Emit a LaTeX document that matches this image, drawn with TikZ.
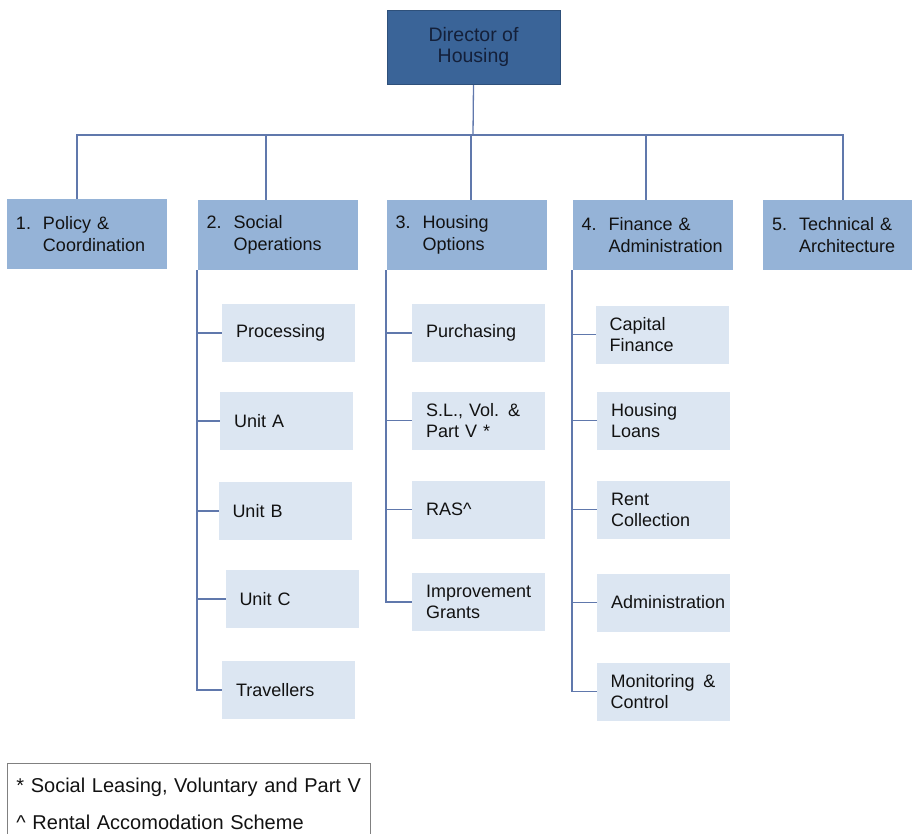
\documentclass[tikz,border=0pt]{standalone}
\usepackage{fontspec}
\setmainfont{Liberation Sans}
\usetikzlibrary{positioning}
\definecolor{dirc}{RGB}{58,100,152}
\definecolor{dirt}{RGB}{20,32,58}
\definecolor{secc}{RGB}{149,179,215}
\definecolor{unitc}{RGB}{220,230,242}
\definecolor{linkc}{RGB}{96,120,172}
\definecolor{notec}{RGB}{128,128,128}
\definecolor{txtc}{RGB}{18,18,18}
\newcommand{\numw}{27pt}
\newcommand{\sectitle}[3]{\makebox[\numw][l]{#1}#2\\\hspace*{\numw}#3}
\pgfdeclarelayer{bg}
\pgfsetlayers{bg,main}

\begin{document}
\begin{tikzpicture}[x=1pt, y=-1pt, line width=1.3pt]
		\tikzstyle{box}=[rectangle, inner sep=0pt, text=txtc]
		\tikzstyle{director}=[box, fill=dirc, draw=dirc!80!black, line width=0.8pt,
		minimum width=173pt, minimum height=74pt, align=center, text=dirt,
		font=\fontsize{19.5}{21}\selectfont]
		\tikzstyle{section}=[box, fill=secc, minimum width=160pt, minimum
		height=70pt, inner xsep=9pt, text width=142pt, align=left,
		font=\fontsize{18}{22}\selectfont]
		\tikzstyle{unit}=[box, fill=unitc, minimum width=133pt, minimum
		height=58pt, inner xsep=14pt, text width=105pt, align=left,
		font=\fontsize{18}{21}\selectfont]
		\tikzstyle{link}=[draw=linkc, line width=1.3pt, line cap=rect]
		\tikzstyle{note}=[box, draw=notec, line width=0.8pt, minimum width=363pt,
		minimum height=81pt, inner xsep=9pt, text width=345pt, align=left,
		font=\fontsize{20}{37}\selectfont]

		\useasboundingbox (0,0) rectangle (912,834);

		\node[director](dir) at (473.5,47) {Director of\\Housing};

		% Sections
		\node[section](p1) at (87,234)    {\sectitle{1.}{Policy \&}{Coordination}};
		\node[section](p2) at (277.5,235) {\sectitle{2.}{Social}{Operations}};
		\node[section](p3) at (466.5,235) {\sectitle{3.}{Housing}{Options}};
		\node[section](p4) at (652.5,235) {\sectitle{4.}{Finance \&}{Administration}};
		\node[section](p5) at (843,235)   {\sectitle{5.}{Technical \&}{Architecture}};

		\coordinate (bar) at (473,135);
		\coordinate (b1) at (77,135);
		\coordinate (b2) at (266,135);
		\coordinate (b3) at (471,135);
		\coordinate (b4) at (646,135);
		\coordinate (b5) at (843,135);

		% Social Operations
		\node[unit](pro) at (288.5,333) {Processing};
		\node[unit](una) at (286.5,421) {Unit A};
		\node[unit](unb) at (285,511)   {Unit B};
		\node[unit](unc) at (292,599)   {Unit C};
		\node[unit](tra) at (288.5,690) {Travellers};

		% Housing Options
		\node[unit](pur) at (478.5,333)   {Purchasing};
		\node[unit](slv) at (478.5,420.5) {S.L., Vol. \&\\Part V *};
		\node[unit](ras) at (478.5,509.5) {RAS\textasciicircum};
		\node[unit](imp) at (478.5,602)   {Improvement\\Grants};

		% Finance & Administration
		\node[unit](caf) at (662,334.5)   {Capital\\Finance};
		\node[unit](hol) at (663.5,420.5) {Housing\\Loans};
		\node[unit](rco) at (663.5,509.5) {Rent\\Collection};
		\node[unit, align=center](adm) at (663.5,602.5) {Administration};
		\node[unit](mon) at (663,691.5)   {Monitoring\hfill\&\\Control};

		% Key
		\node[note, anchor=north west](key) at (7,763)
		{* Social Leasing, Voluntary and Part V\\\textasciicircum{} Rental Accomodation Scheme};

		\begin{pgfonlayer}{bg}
			% Director to sections
			\path (dir.south) edge [link] (bar);
			\path (b1) edge [link] (b5);
			\path (b1) edge [link] (b1 |- p1.north);
			\path (b2) edge [link] (b2 |- p2.north);
			\path (b3) edge [link] (b3 |- p3.north);
			\path (b4) edge [link] (b4 |- p4.north);
			\path (b5) edge [link] (b5 |- p5.north);

			% Section spines
			\path (p2.south west) edge [link] (p2.south west |- tra.west);
			\path (p3.south west) edge [link] (p3.south west |- imp.west);
			\path (p4.south west) edge [link] (p4.south west |- mon.west);

			% Units
			\foreach \u in {pro,una,unb,unc,tra}
				\path (\u.west -| p2.south west) edge [link] (\u.west);
			\foreach \u in {pur,slv,ras,imp}
				\path (\u.west -| p3.south west) edge [link] (\u.west);
			\foreach \u in {caf,hol,rco,adm,mon}
				\path (\u.west -| p4.south west) edge [link] (\u.west);
		\end{pgfonlayer}

\end{tikzpicture}
\end{document}
